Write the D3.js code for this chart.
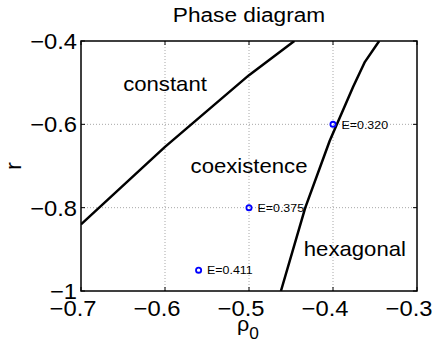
<!DOCTYPE html>
<html>
<head>
<meta charset="utf-8">
<script src="https://cdn.jsdelivr.net/npm/d3@7"></script>
<style>
  html, body { margin: 0; padding: 0; background: #fff; }
  svg { display: block; }
  text { font-family: "Liberation Sans", Arial, Helvetica, sans-serif; fill: #000; }
</style>
</head>
<body>
<script>
// Phase boundaries in the (rho0, r) plane
const constantBoundaryRho = [-0.7, -0.6, -0.5, -0.446];
const constantBoundaryR   = [-0.84, -0.654, -0.482, -0.4];

const hexagonalBoundaryRho = [-0.462, -0.433, -0.404, -0.376, -0.362, -0.345];
const hexagonalBoundaryR   = [-1.0, -0.8, -0.64, -0.51, -0.45, -0.4];

// Sample points with their energies
const sampleRho    = [-0.4, -0.5, -0.56];
const sampleR      = [-0.6, -0.8, -0.95];
const sampleLabels = ["E=0.320", "E=0.375", "E=0.411"];

// Region labels (centre of text, baseline)
const regionNames = ["constant", "coexistence", "hexagonal"];
const regionRho   = [-0.6, -0.5, -0.374];
const regionR     = [-0.52, -0.7175, -0.916];

// Ticks
const xTicks = [-0.7, -0.6, -0.5, -0.4, -0.3];
const xTickLabels = ["\u22120.7", "\u22120.6", "\u22120.5", "\u22120.4", "\u22120.3"];
const yTicks = [-1, -0.8, -0.6, -0.4];
const yTickLabels = ["\u22121", "\u22120.8", "\u22120.6", "\u22120.4"];

const W = 433, H = 347;
const plot = { left: 81, right: 417, top: 41, bottom: 291 };
const SX = 1.08; // horizontal text stretch

const svg = d3.select("body").append("svg").attr("width", W).attr("height", H);

const x = d3.scaleLinear().domain([-0.7, -0.3]).range([plot.left, plot.right]);
const y = d3.scaleLinear().domain([-1, -0.4]).range([plot.bottom, plot.top]);

function stretchedText(g, px, py, str, size, anchor) {
  return g.append("text")
    .attr("transform", `translate(${px},${py}) scale(${SX},1)`)
    .attr("text-anchor", anchor || "start")
    .style("font-size", size + "px")
    .text(str);
}

// dotted grid
const grid = svg.append("g");
xTicks.slice(1, -1).forEach(v => {
  grid.append("line")
    .attr("x1", x(v)).attr("x2", x(v)).attr("y1", plot.top).attr("y2", plot.bottom)
    .attr("stroke", "#a8a8a8").attr("stroke-width", 1).attr("stroke-dasharray", "1,2");
});
yTicks.slice(1, -1).forEach(v => {
  grid.append("line")
    .attr("x1", plot.left).attr("x2", plot.right).attr("y1", y(v)).attr("y2", y(v))
    .attr("stroke", "#a8a8a8").attr("stroke-width", 1).attr("stroke-dasharray", "1,2");
});

// boundary curves
const line = d3.line().x(d => x(d[0])).y(d => y(d[1]));
svg.append("clipPath").attr("id", "plotclip").append("rect")
  .attr("x", plot.left).attr("y", plot.top)
  .attr("width", plot.right - plot.left).attr("height", plot.bottom - plot.top);

[[constantBoundaryRho, constantBoundaryR], [hexagonalBoundaryRho, hexagonalBoundaryR]].forEach(([rx, ry]) => {
  svg.append("path")
    .datum(rx.map((v, i) => [v, ry[i]]))
    .attr("d", line)
    .attr("clip-path", "url(#plotclip)")
    .attr("fill", "none").attr("stroke", "#000").attr("stroke-width", 2.5)
    .attr("stroke-linejoin", "round");
});

// sample markers and energy labels
const pts = svg.append("g");
sampleRho.forEach((v, i) => {
  pts.append("circle")
    .attr("cx", x(v)).attr("cy", y(sampleR[i])).attr("r", 2.6)
    .attr("fill", "none").attr("stroke", "#0000ff").attr("stroke-width", 1.8);
  stretchedText(pts, x(v) + 8.5, y(sampleR[i]) + 4.3, sampleLabels[i], 11.5);
});

// region labels
regionNames.forEach((name, i) => {
  stretchedText(svg, x(regionRho[i]), y(regionR[i]), name, 20.5, "middle");
});

// axes box
svg.append("rect")
  .attr("x", plot.left).attr("y", plot.top)
  .attr("width", plot.right - plot.left).attr("height", plot.bottom - plot.top)
  .attr("fill", "none").attr("stroke", "#000").attr("stroke-width", 1.5);

// inward tick marks on all sides
const tk = 4;
const ticks = svg.append("g").attr("stroke", "#000").attr("stroke-width", 1);
xTicks.forEach(v => {
  ticks.append("line").attr("x1", x(v)).attr("x2", x(v)).attr("y1", plot.bottom).attr("y2", plot.bottom - tk);
  ticks.append("line").attr("x1", x(v)).attr("x2", x(v)).attr("y1", plot.top).attr("y2", plot.top + tk);
});
yTicks.forEach(v => {
  ticks.append("line").attr("x1", plot.left).attr("x2", plot.left + tk).attr("y1", y(v)).attr("y2", y(v));
  ticks.append("line").attr("x1", plot.right).attr("x2", plot.right - tk).attr("y1", y(v)).attr("y2", y(v));
});

// tick labels
xTicks.forEach((v, i) => {
  stretchedText(svg, x(v) - 8, 316, xTickLabels[i], 22, "middle");
});
yTicks.forEach((v, i) => {
  stretchedText(svg, 77, y(v) + 8, yTickLabels[i], 22, "end");
});

// title and axis labels
stretchedText(svg, 249, 22, "Phase diagram", 21, "middle");

svg.append("text")
  .attr("transform", `translate(21,166) rotate(-90) scale(${SX},1)`)
  .attr("text-anchor", "middle")
  .style("font-size", "22px")
  .text("r");

const xl = svg.append("text")
  .attr("transform", `translate(237,331) scale(${SX},1)`)
  .style("font-size", "20px");
xl.append("tspan").text("\u03c1");
xl.append("tspan").attr("dy", 8).style("font-size", "16px").text("0");
</script>
</body>
</html>
